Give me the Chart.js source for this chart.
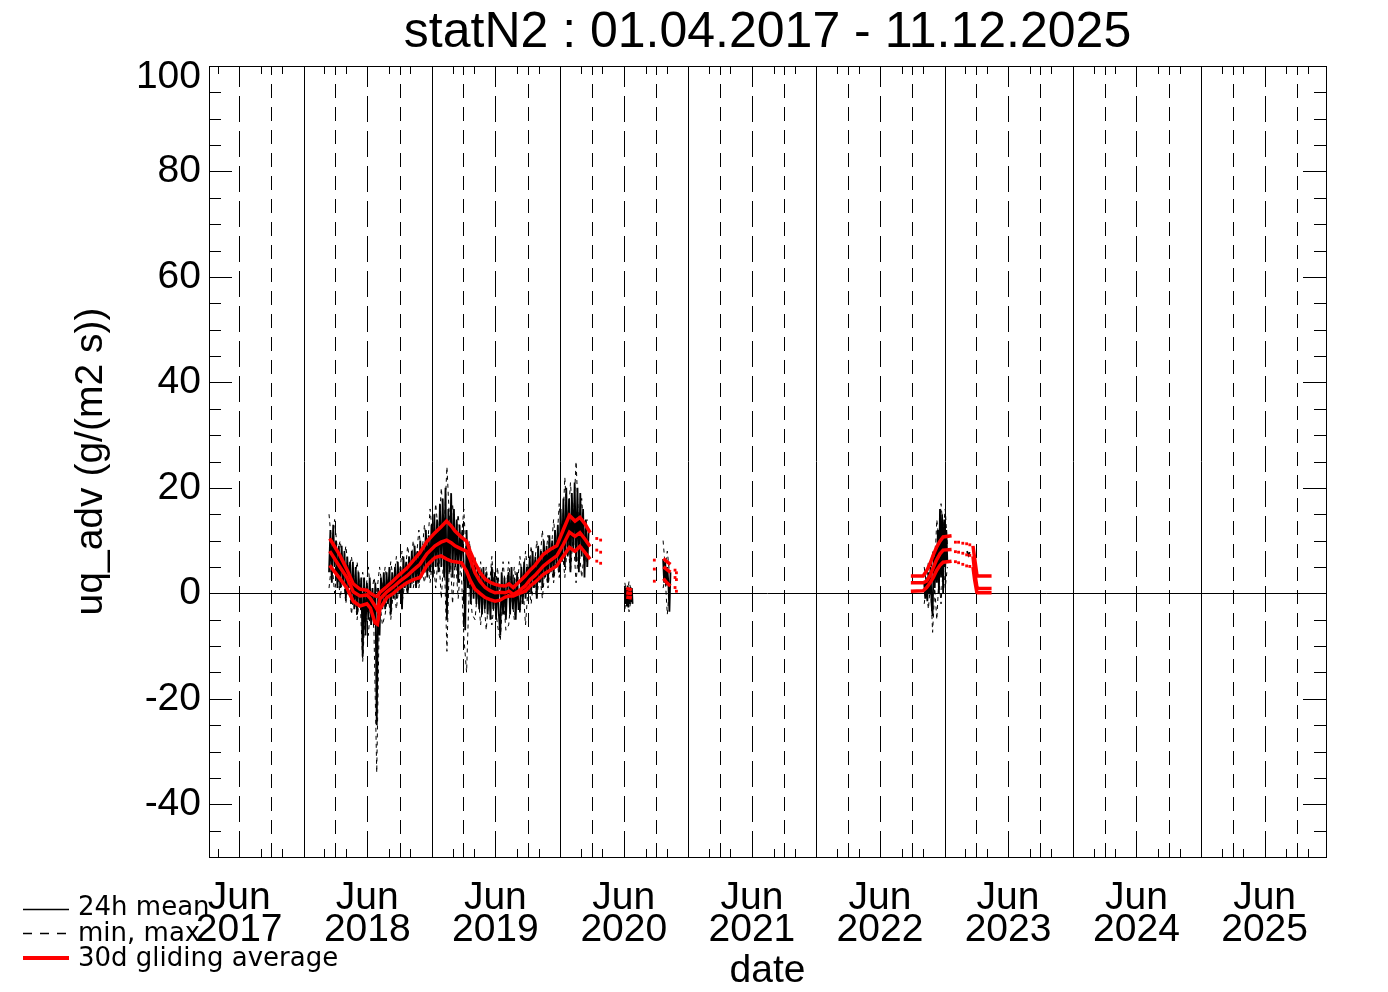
<!DOCTYPE html>
<html>
<head>
<meta charset="utf-8">
<title>statN2 uq_adv</title>
<script src="https://cdn.jsdelivr.net/npm/chart.js@4/dist/chart.umd.min.js"></script>
<style>
  html, body { margin: 0; padding: 0; background: #fff; }
</style>
</head>
<body>
<canvas id="chart" width="1388" height="992"></canvas>
<script>
// ---- axis range and labels ----
const title = 'statN2 : 01.04.2017 - 11.12.2025';
const xStart = '2017-04-06';
const xEnd = '2025-12-23';
const tickMonth = 'Jun';
const tickYears = ['2017', '2018', '2019', '2020', '2021', '2022', '2023', '2024', '2025'];
const yTicks = [-40, -20, 0, 20, 40, 60, 80, 100];
const yTickLabels = ['-40', '-20', '0', '20', '40', '60', '80', '100'];

// ---- 24h mean ----
// from 2018-03-14, one value every 4 days
const meanA = [
  4, 12, 2, 13, 5, 10, 1, 9,
  1, 9, 2, 8, -1, 7, 1, 6,
  -2, 6, -3, 5, -4, 4, -2, 3,
  -12, 3, -8, 2, -5, 3, -6, 1,
  -6, 2, -25, 1, -8, 3, -3, 4,
  -3, 4, -2, 5, -4, 4, -1, 5,
  -1, 6, 0, 5, -3, 7, 1, 6,
  0, 7, 1, 8, 2, 9, 1, 8,
  2, 10, 3, 9, 4, 12, 3, 11,
  4, 13, 3, 15, 5, 14, 4, 17,
  5, 18, 3, 20, -5, 16, 4, 19,
  3, 16, 5, 14, 2, 13, 6, 12,
  5, -7, 12, 1, 9, -2, 7, -1,
  6, -2, 5, -3, 4, -4, 5, -3,
  4, -4, 3, -5, 5, -3, 4, -5,
  3, -4, -8, 4, -4, 3, -5, 2,
  4, -4, 5, -3, 3, -5, 4, -3,
  -3, 5, -2, 6, -1, 5, 0, 7,
  0, 8, 1, 7, -1, 9, 2, 8,
  1, 10, 3, 9, 2, 11, 4, 10,
  3, 12, 5, 13, 4, 16, 6, 18,
  5, 20, 7, 18, 4, 19, 8, 21,
  6, 20, 4, 19, 7, 16, 3, 14, 5, 12
];
// from 2020-07-04, every 2 days
const meanB = [1.4, -2, 1, -2.5, 1.5, -2.7, 0.5, -2, 1.2, -1.5, 1, -2];
// from 2020-10-21, every 3 days
const meanC = [6.5, 2, 6, 1.5, 5, 2, -3.5, 4];
// from 2022-11-04, every 3 days
const meanD = [2, -1, 3, -1.5, 4, 0, 5, -2, -4.3, 7, 1, 9, 2, 12, 0, 16, 3, 15, 0, 14, 5, 12, 6];
// from 2023-03-06, every 4 days
const meanE = [8.0, 7.2, 7.8];

// ---- daily max / min ----
// from 2018-03-14, every 8 days
const maxA = [
  15, 9, 14, 8,  10, 5, 9, 4,  7, 2, 6, 1,  4, 0, 5, -1,
  3, 0, 5, 1,  5, 1, 6, 2,  7, 3, 8, 3,  9, 5, 10, 6,
  12, 7, 13, 8,  16, 10, 17, 11,  20, 12, 24, 13,  17, 10, 15, 9,
  16, 6, 10, 3,  7, 1, 6, 0,  5, 0, 7, -1,  5, -1, 6, 0,
  6, 0, 5, 1,  7, 2, 8, 3,  9, 4, 10, 5,  12, 6, 11, 7,
  14, 8, 17, 10,  22, 12, 21, 13,  25, 12, 18, 10, 14
];
const minA = [
  1, 6, 0, 5,  -1, 4, -2, 3,  -4, 1, -5, 0,  -13, -2, -8, -1,
  -7, -34, -1, -6,  -4, 0, -5, 1,  -3, 2, -2, 2,  0, 3, 1, 4,
  1, 5, 2, 6,  2, 7, 1, 8,  -1, 8, -11, 9,  -2, 7, -1, 6,
  -8, -15, 2, -4,  -5, 1, -6, 0,  -7, 0, -6, -1,  -6, -9, 0, -7,
  -6, 0, -5, 1,  -4, 2, -6, 2,  -2, 3, -1, 4,  -1, 5, 1, 6,
  2, 7, 3, 9,  3, 10, 4, 11,  2, 9, 3, 8, 5
];
// from 2020-07-04, every 6 days
const maxB = [2.0, -0.5, 2.3, 0.5];
const minB = [-3, 0, -3.5, -1];
// from 2020-10-21, every 6 days
const maxC = [10, 5, 8, 4];
const minC = [1, 3, -4, 1];
// from 2022-11-04, every 6 days
const maxD = [5, 2, 6, 3, 8, 5, 14, 10, 17, 12, 16, 9];
const minD = [-2, 1, -3, 2, -7.4, 1, -5, 3, -2, 5, 1, 5];

// ---- 30d gliding averages (null = gap) ----
const avgDates = [
  '2018-03-16', '2018-04-14', '2018-05-04', '2018-05-22', '2018-06-10', '2018-06-30',
  '2018-07-10', '2018-07-23', '2018-07-30', '2018-08-06', '2018-08-26', '2018-09-13',
  '2018-10-02', '2018-10-22', '2018-11-09', '2018-11-28', '2018-12-18', '2019-01-10',
  '2019-01-27', '2019-02-12', '2019-02-25', '2019-03-08', '2019-03-27', '2019-04-10',
  '2019-04-20', '2019-05-04', '2019-05-18', '2019-06-02', '2019-06-16', '2019-06-30',
  '2019-07-14', '2019-07-29', '2019-08-09', '2019-08-21', '2019-09-07', '2019-09-24',
  '2019-10-08', '2019-10-22', '2019-11-15', '2019-12-04', '2019-12-23', '2020-01-11',
  '2020-01-28', '2020-02-13', '2020-02-27', '2020-03-13', '2020-03-27',
  '2020-05-01',
  '2020-07-08', '2020-07-16', '2020-07-24',
  '2020-09-01',
  '2020-10-22', '2020-11-01', '2020-11-11',
  '2021-06-01',
  '2022-09-27', '2022-11-01', '2022-11-11', '2022-11-20', '2022-11-30', '2022-12-09',
  '2022-12-19', '2022-12-28', '2023-01-21',
  '2023-02-15',
  '2023-03-23', '2023-03-28', '2023-04-03', '2023-04-06', '2023-05-15'
];
const avgMax = [
  10.4, 7.2, 4.5, 1.8, 0.8, 0.6, 0.0, -0.5, -0.6, 0.2, 1.3, 2.4,
  3.6, 4.8, 6.2, 7.7, 9.8, 11.5, 12.6, 13.7, 12.8, 11.8, 10.6, 9.9,
  8.0, 5.8, 4.0, 2.7, 2.1, 1.7, 1.5, 1.4, 1.8, 1.1, 2.2, 3.3,
  4.4, 5.3, 7.4, 8.3, 9.0, 12.1, 14.8, 13.7, 14.4, 13.1, 11.5,
  null,
  0.9, 0.8, 0.6,
  null,
  6.6, 6.0, 5.5,
  null,
  3.3, 3.3, 4.3, 5.5, 7.3, 8.7, 9.9, 10.7, 10.9,
  null,
  9.0, 6.5, 3.6, 3.3, 3.3
];
const avgMean = [
  8.0, 5.0, 3.0, 0.3, -0.5, -0.3, -1.0, -2.4, -3.2, -1.1, 0.3, 1.2,
  2.3, 3.3, 4.4, 5.5, 7.5, 9.0, 9.7, 10.1, 9.6, 9.0, 8.4, 8.0,
  6.5, 3.9, 2.3, 1.1, 0.5, 0.1, 0.2, 0.1, 0.4, -0.2, 0.5, 1.4,
  2.6, 3.4, 5.2, 6.2, 7.1, 9.3, 11.6, 10.8, 11.5, 10.2, 8.9,
  null,
  0.1, 0.0, -0.1,
  null,
  5.0, 4.5, 4.0,
  null,
  2.0, 2.0, 2.3, 3.3, 4.9, 6.3, 7.5, 8.2, 8.3,
  null,
  7.0, 4.0, 1.3, 0.9, 0.9
];
const avgMin = [
  5.3, 2.8, 1.0, -1.5, -2.4, -2.0, -2.8, -5.6, -5.9, -3.0, -0.8, 0.0,
  1.1, 2.0, 2.6, 3.0, 5.3, 6.8, 7.1, 6.5, 6.1, 6.0, 5.8, 4.2,
  2.5, 0.8, 0.0, -0.8, -1.2, -1.5, -1.3, -0.7, -0.5, -0.5, 0.0, 0.4,
  1.4, 2.1, 3.6, 4.4, 5.2, 7.1, 8.7, 8.0, 8.9, 7.7, 6.5,
  null,
  -0.7, -0.8, -0.9,
  null,
  2.8, 2.0, 1.4,
  null,
  0.4, 0.5, 1.1, 1.9, 3.0, 4.3, 5.3, 5.9, 6.1,
  null,
  5.0, 2.5, 0.2, 0.1, 0.1
];
// isolated averages (drawn as dots)
const dotDates = ['2020-04-15', '2020-04-26', '2020-09-26', '2020-11-24', '2020-11-28',
                  '2023-02-01', '2023-02-10', '2023-02-22', '2023-03-05', '2023-03-14'];
const dotMax  = [10.4, 10.1, 6.3, 4.4, 3.9, 9.7, 9.7, 9.5, 9.4, 9.2];
const dotMean = [8.2, 7.8, 4.6, 3.0, 2.6, 7.9, 7.8, 7.6, 7.3, 7.2];
const dotMin  = [6.1, 5.7, 2.3, 1.1, 0.4, 6.0, 5.8, 5.5, 5.2, 5.1];

// ---- helpers ----
function day(s) {
  const [y, m, d] = s.split('-').map(Number);
  return Date.UTC(y, m - 1, d) / 864e5;
}
function run(start, step, values) {
  const d0 = day(start);
  return values.map((v, i) => ({ x: d0 + i * step, y: v }));
}
function joined(...runs) {
  const out = [];
  runs.forEach((r, i) => {
    if (i) out.push({ x: r[0].x - 0.5, y: null });
    out.push(...r);
  });
  return out;
}
function pairs(dates, vals) {
  return dates.map((d, i) => ({ x: day(d), y: vals[i] }));
}

const meanPts = joined(run('2018-03-14', 4, meanA), run('2020-07-04', 2, meanB),
  run('2020-10-21', 3, meanC), run('2022-11-04', 3, meanD), run('2023-03-06', 4, meanE));
const maxPts = joined(run('2018-03-14', 8, maxA), run('2020-07-04', 6, maxB),
  run('2020-10-21', 6, maxC), run('2022-11-04', 6, maxD));
const minPts = joined(run('2018-03-14', 8, minA), run('2020-07-04', 6, minB),
  run('2020-10-21', 6, minC), run('2022-11-04', 6, minD));
const dotPts = [].concat(pairs(dotDates, dotMax), pairs(dotDates, dotMean), pairs(dotDates, dotMin));

const FONT = "'Liberation Sans', Arial, Helvetica, sans-serif";

// grid lines, frame, inward ticks, title, legend
const decor = {
  id: 'decor',
  beforeDatasetsDraw(chart) {
    const { ctx, chartArea: a, scales: { x, y } } = chart;
    ctx.save();
    ctx.strokeStyle = '#000';
    ctx.lineWidth = 1;
    const dash = { 1: [], 4: [14, 9], 7: [26, 9], 10: [14, 9] };
    for (let yr = 2017; yr <= 2025; yr++) {
      for (const m of [1, 4, 7, 10]) {
        const v = Date.UTC(yr, m - 1, 1) / 864e5;
        if (v <= x.min || v >= x.max) continue;
        const px = Math.round(x.getPixelForValue(v)) + 0.5;
        ctx.setLineDash(dash[m]);
        ctx.beginPath();
        ctx.moveTo(px, a.bottom);
        ctx.lineTo(px, a.top);
        ctx.stroke();
      }
    }
    ctx.setLineDash([]);
    const y0 = Math.round(y.getPixelForValue(0)) + 0.5;
    ctx.beginPath();
    ctx.moveTo(a.left, y0);
    ctx.lineTo(a.right, y0);
    ctx.stroke();
    ctx.restore();
  },
  afterDatasetsDraw(chart) {
    const { ctx, chartArea: a, scales: { x, y } } = chart;
    ctx.save();
    ctx.strokeStyle = '#000';
    ctx.lineWidth = 1;
    ctx.strokeRect(Math.round(a.left) + 0.5, Math.round(a.top) + 0.5,
      Math.round(a.width), Math.round(a.height));
    ctx.beginPath();
    for (let v = -45; v < 100; v += 5) {
      const py = Math.round(y.getPixelForValue(v)) + 0.5;
      const len = v % 20 === 0 ? 23 : 12;
      ctx.moveTo(a.left, py); ctx.lineTo(a.left + len, py);
      ctx.moveTo(a.right, py); ctx.lineTo(a.right - len, py);
    }
    for (let yr = 2017; yr <= 2025; yr++) {
      for (const m of [1, 3, 5, 7, 9, 11]) {
        const v = Date.UTC(yr, m - 1, 1) / 864e5;
        if (v <= x.min || v >= x.max) continue;
        const px = Math.round(x.getPixelForValue(v)) + 0.5;
        ctx.moveTo(px, a.bottom); ctx.lineTo(px, a.bottom - 8);
        ctx.moveTo(px, a.top); ctx.lineTo(px, a.top + 8);
      }
    }
    ctx.stroke();
    ctx.restore();
  },
  afterDraw(chart) {
    const { ctx, chartArea: a } = chart;
    ctx.save();
    // title, centred over the plot box
    ctx.fillStyle = '#000';
    ctx.font = '50px ' + FONT;
    ctx.textAlign = 'center';
    ctx.textBaseline = 'alphabetic';
    ctx.fillText(title, (a.left + a.right) / 2, 47);
    // legend
    ctx.textAlign = 'left';
    ctx.strokeStyle = '#000';
    ctx.lineWidth = 1.5;
    ctx.beginPath(); ctx.moveTo(23, 909.5); ctx.lineTo(69, 909.5); ctx.stroke();
    ctx.setLineDash([9, 8]);
    ctx.beginPath(); ctx.moveTo(23, 933.5); ctx.lineTo(69, 933.5); ctx.stroke();
    ctx.setLineDash([]);
    ctx.strokeStyle = '#ff0000';
    ctx.lineWidth = 4;
    ctx.beginPath(); ctx.moveTo(23, 958); ctx.lineTo(69, 958); ctx.stroke();
    ctx.font = "26px 'DejaVu Sans', sans-serif";
    ctx.fillText('24h mean', 78, 915);
    ctx.fillText('min, max', 78, 941);
    ctx.fillText('30d gliding average', 78, 966);
    ctx.restore();
  }
};

const red = '#ff0000';
new Chart(document.getElementById('chart'), {
  type: 'line',
  data: {
    datasets: [
      { label: '30d max', data: pairs(avgDates, avgMax), borderColor: red, borderWidth: 3.5, order: 0 },
      { label: '30d mean', data: pairs(avgDates, avgMean), borderColor: red, borderWidth: 3.5, order: 0 },
      { label: '30d min', data: pairs(avgDates, avgMin), borderColor: red, borderWidth: 3.5, order: 0 },
      { label: '30d single', data: dotPts, showLine: false, pointRadius: 2, pointStyle: 'rect',
        pointBackgroundColor: red, pointBorderColor: red, pointBorderWidth: 0, order: 0 },
      { label: '24h mean', data: meanPts, borderColor: '#000', borderWidth: 1.8, order: 1 },
      { label: 'max', data: maxPts, borderColor: '#000', borderWidth: 1, borderDash: [4, 4], order: 2 },
      { label: 'min', data: minPts, borderColor: '#000', borderWidth: 1, borderDash: [4, 4], order: 2 }
    ]
  },
  options: {
    responsive: false,
    animation: false,
    spanGaps: false,
    elements: { point: { radius: 0 }, line: { tension: 0, fill: false } },
    layout: { padding: { left: 0, right: 62, top: 66, bottom: 0 } },
    plugins: {
      legend: { display: false },
      tooltip: { enabled: false },
      title: { display: false }
    },
    scales: {
      x: {
        type: 'linear',
        min: day(xStart),
        max: day(xEnd),
        grid: { display: false, drawTicks: false },
        border: { display: false },
        afterBuildTicks: s => { s.ticks = tickYears.map(yr => ({ value: day(yr + '-07-01') })); },
        afterFit: s => { s.height = 135; },
        ticks: {
          autoSkip: false,
          maxRotation: 0,
          padding: 25,
          color: '#000',
          font: { family: FONT, size: 39, lineHeight: 0.82 },
          callback: (v, i) => [tickMonth, tickYears[i]]
        },
        title: {
          display: true,
          text: 'date',
          color: '#000',
          font: { family: FONT, size: 39, lineHeight: 1 },
          padding: { top: 0, bottom: 1 }
        }
      },
      y: {
        type: 'linear',
        min: -50,
        max: 100,
        grid: { display: false, drawTicks: false },
        border: { display: false },
        afterBuildTicks: s => { s.ticks = yTicks.map(v => ({ value: v })); },
        afterFit: s => { s.width = 209; },
        ticks: {
          padding: 8,
          color: '#000',
          // the top label sits a little below its tick, as in the original
          font: c => ({ family: FONT, size: 39, lineHeight: c.tick && c.tick.value === 100 ? 0.6 : 1.2 }),
          callback: (v, i) => v === 100 ? ['', yTickLabels[i]] : yTickLabels[i]
        },
        title: {
          display: true,
          text: 'uq_adv (g/(m2 s))',
          color: '#000',
          font: { family: FONT, size: 39, lineHeight: 1 },
          padding: { top: 72, bottom: 0 }
        }
      }
    }
  },
  plugins: [decor]
});
</script>
</body>
</html>
